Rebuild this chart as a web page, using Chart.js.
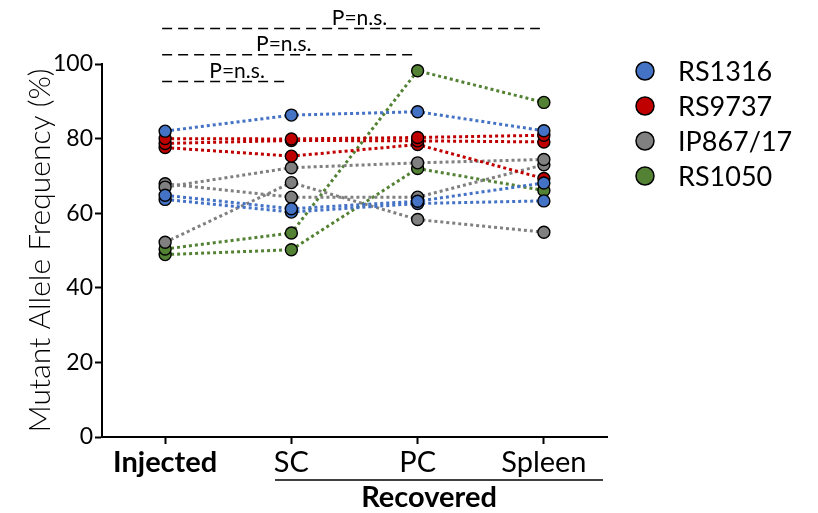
<!DOCTYPE html>
<html>
<head>
<meta charset="utf-8">
<script src="https://cdn.jsdelivr.net/npm/chart.js@4.4.1/dist/chart.umd.min.js"></script>
<style>
  html, body { margin: 0; padding: 0; background: #fff; }
  #wrap { width: 818px; height: 513px; position: relative; }
</style>
</head>
<body>
<div id="wrap"><canvas id="freqChart"></canvas></div>
<script>
// Data (mutant allele frequency, %)
const timepoints = ['Injected', 'SC', 'PC', 'Spleen'];
const strains = ['RS1316', 'RS9737', 'IP867/17', 'RS1050'];
const strainColors = ['#4472C4', '#C00000', '#808080', '#548235'];
const yTicks = [0, 20, 40, 60, 80, 100];

const rs1316 = [
    [82.0, 86.3, 87.2, 82.1],
    [64.8, 61.2, 63.2, 68.1],
    [63.7, 60.3, 62.6, 63.3]
];
const rs9737 = [
    [80.0, 79.9, 80.3, 80.9],
    [78.7, 79.5, 79.4, 79.1],
    [77.6, 75.3, 78.4, 69.3]
];
const ip867 = [
    [67.0, 72.2, 73.5, 74.4],
    [67.9, 64.3, 64.3, 73.0],
    [52.2, 68.2, 58.3, 54.9]
];
const rs1050 = [
    [50.4, 54.7, 98.2, 89.7],
    [48.9, 50.2, 72.0, 66.1]
];
const strainData = [rs1316, rs9737, ip867, rs1050];

// significance brackets: from Injected to target column
const brackets = [
    { to: 3, y: 109.5, text: 'P=n.s.', textAt: 1.54 },
    { to: 2, y: 102.5, text: 'P=n.s.', textAt: 0.94 },
    { to: 1, y: 95.3, text: 'P=n.s.', textAt: 0.57 }
];

const FONT = 'Lato, "Open Sans", sans-serif';

const datasets = [];
strainData.forEach((reps, s) => {
    reps.forEach(rep => {
        datasets.push({
            label: strains[s],
            data: rep,
            borderColor: strainColors[s],
            borderWidth: 3,
            borderDash: [3, 3],
            borderCapStyle: 'butt',
            pointBackgroundColor: strainColors[s],
            pointBorderColor: '#000',
            pointBorderWidth: 1.4,
            pointRadius: 6,
            tension: 0,
            fill: false
        });
    });
});

// Extras: brackets, legend, "Recovered" group label
const extras = {
    id: 'extras',
    afterDraw(chart) {
        const { ctx, scales: { x, y } } = chart;
        ctx.save();

        // brackets
        ctx.strokeStyle = '#000';
        ctx.lineWidth = 1.6;
        ctx.setLineDash([10, 6]);
        ctx.font = '21px ' + FONT;
        ctx.fillStyle = '#000';
        ctx.textAlign = 'center';
        ctx.textBaseline = 'alphabetic';
        brackets.forEach(b => {
            const x0 = x.getPixelForValue(0) - 3;
            const x1 = x.getPixelForValue(b.to) - 4;
            const py = y.getPixelForValue(b.y);
            ctx.beginPath();
            ctx.moveTo(x0, py);
            ctx.lineTo(x1, py);
            ctx.stroke();
            const step = x.getPixelForValue(1) - x.getPixelForValue(0);
            ctx.fillText(b.text, x.getPixelForValue(0) + step * b.textAt, py - 4);
        });
        ctx.setLineDash([]);

        // group underline + label
        ctx.lineWidth = 1.5;
        ctx.beginPath();
        ctx.moveTo(275, 480);
        ctx.lineTo(603, 480);
        ctx.stroke();
        ctx.font = 'bold 29px ' + FONT;
        ctx.textBaseline = 'middle';
        ctx.fillText('Recovered', 429, 498);

        // legend
        ctx.textAlign = 'left';
        ctx.font = '27px ' + FONT;
        strains.forEach((name, i) => {
            const cy = 71 + i * 35;
            ctx.beginPath();
            ctx.arc(645, cy, 9, 0, Math.PI * 2);
            ctx.fillStyle = strainColors[i];
            ctx.fill();
            ctx.lineWidth = 1.5;
            ctx.strokeStyle = '#000';
            ctx.stroke();
            ctx.fillStyle = '#000';
            ctx.fillText(name, 678, cy + 1);
        });
        ctx.restore();
    }
};

const ctxEl = document.getElementById('freqChart');
new Chart(ctxEl.getContext('2d'), {
    type: 'line',
    data: { labels: timepoints, datasets: datasets },
    options: {
        responsive: true,
        maintainAspectRatio: false,
        animation: false,
        layout: { padding: { top: 64, right: 211, left: 0, bottom: 0 } },
        plugins: { legend: { display: false }, tooltip: { enabled: false } },
        scales: {
            x: {
                offset: true,
                afterFit: (s) => { s.height = 76; },
                border: { display: true, color: '#000', width: 2 },
                grid: { display: true, drawOnChartArea: false, drawTicks: true, tickLength: 7, tickWidth: 2, tickColor: '#000', offset: false },
                ticks: {
                    color: '#000',
                    padding: 1,
                    font: (c) => ({ family: FONT, size: 29, weight: c.index === 0 ? 'bold' : 'normal' })
                }
            },
            y: {
                min: 0, max: 100,
                afterFit: (s) => { s.width = 102; },
                afterBuildTicks: (s) => { s.ticks = yTicks.map(v => ({ value: v })); },
                border: { display: true, color: '#000', width: 2 },
                grid: { display: true, drawOnChartArea: false, drawTicks: true, tickLength: 7, tickWidth: 2, tickColor: '#000' },
                ticks: { color: '#000', padding: 2, font: { family: FONT, size: 23 } },
                title: {
                    display: true,
                    text: 'Mutant Allele Frequency (%)',
                    color: '#000',
                    font: { family: FONT, size: 30, weight: 300 },
                    padding: { top: 22, bottom: 0 }
                }
            }
        }
    },
    plugins: [extras]
});
</script>
</body>
</html>
